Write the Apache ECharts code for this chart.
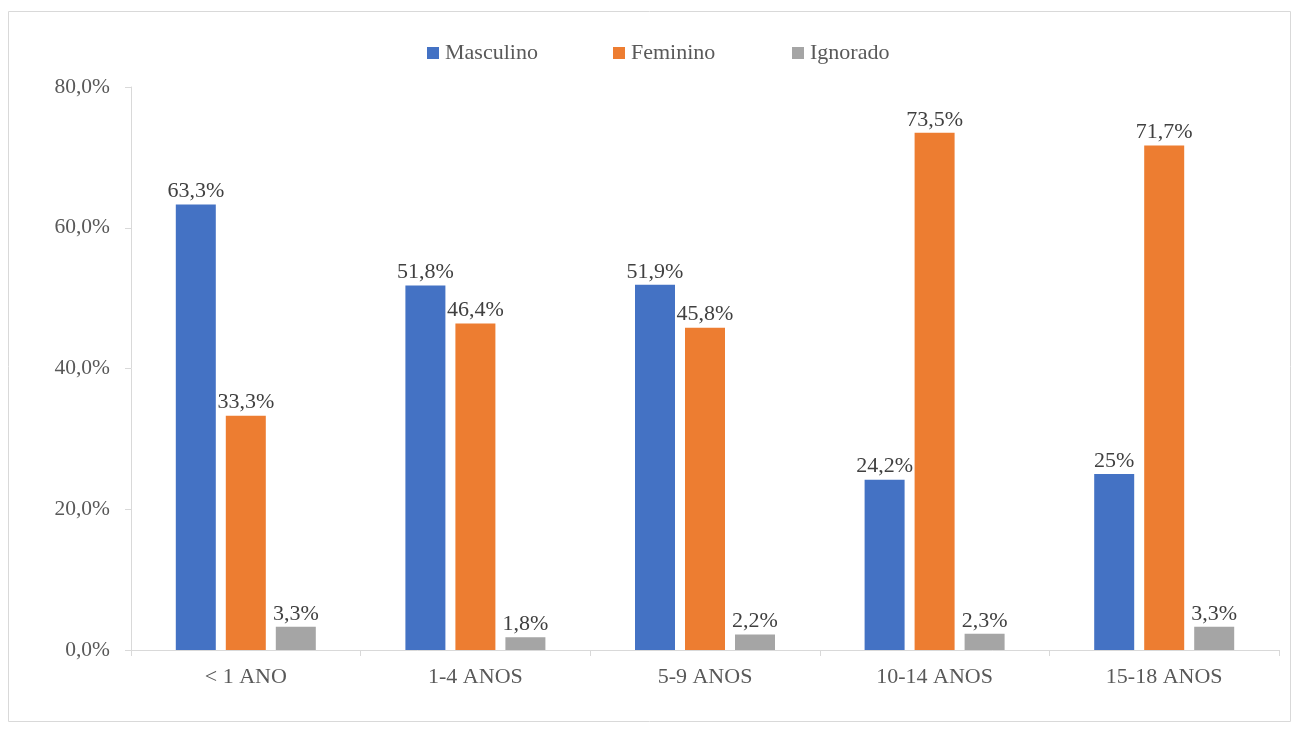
<!DOCTYPE html>
<html><head><meta charset="utf-8">
<script src="https://cdn.jsdelivr.net/npm/echarts@6/dist/echarts.min.js"></script>
<style>html,body{margin:0;padding:0;background:#fff}#c{width:1301px;height:731px}</style>
</head><body><div id="c"></div>
<script>
const categories = ['< 1 ANO', '1-4 ANOS', '5-9 ANOS', '10-14 ANOS', '15-18 ANOS'];
const masculino = [63.3, 51.8, 51.9, 24.2, 25];
const feminino = [33.3, 46.4, 45.8, 73.5, 71.7];
const ignorado = [3.3, 1.8, 2.2, 2.3, 3.3];
const seriesNames = ['Masculino', 'Feminino', 'Ignorado'];
const yTicks = [0, 20, 40, 60, 80];

const FONT = '"Liberation Serif", "Times New Roman", serif';
const colors = ['#4472C4', '#ED7D31', '#A5A5A5'];
const fmtLabel = v => String(v).replace('.', ',') + '%';
const chart = echarts.init(document.getElementById('c'));
const legendLefts = [427, 613, 792];
const mk = (name, data, i) => ({
  name, type: 'bar', data, barWidth: 40, barGap: '25%',
  itemStyle: { color: colors[i] },
  label: { show: true, position: 'top', distance: 2, color: '#404040', fontFamily: FONT, fontSize: 22,
    formatter: p => fmtLabel(p.value) }
});
chart.setOption({
  animation: false,
  color: colors,
  graphic: [{ type: 'rect', shape: { x: 8.5, y: 11.5, width: 1282, height: 710 },
    style: { fill: 'none', stroke: '#d9d9d9', lineWidth: 1 }, z: -1 }],
  legend: seriesNames.map((n, i) => ({
    data: [n], left: legendLefts[i], top: 42, padding: 0, icon: 'rect', itemWidth: 12, itemHeight: 12,
    textStyle: { fontFamily: FONT, fontSize: 22, color: '#595959', padding: [0, 0, 0, 1] }
  })),
  grid: { left: 131, right: 22, top: 87, bottom: 81 },
  xAxis: {
    type: 'category', data: categories,
    axisLine: { lineStyle: { color: '#d9d9d9', width: 1 } },
    axisTick: { show: true, length: 6, lineStyle: { color: '#d9d9d9' } },
    axisLabel: { fontFamily: FONT, fontSize: 22, color: '#595959', margin: 16 }
  },
  yAxis: {
    type: 'value', min: yTicks[0], max: yTicks[yTicks.length - 1], interval: 20,
    axisLine: { show: true, lineStyle: { color: '#d9d9d9', width: 1 } },
    axisTick: { show: true, length: 6, lineStyle: { color: '#d9d9d9' } },
    splitLine: { show: false },
    axisLabel: { fontFamily: FONT, fontSize: 21.5, color: '#595959', margin: 21,
      formatter: v => v.toFixed(1).replace('.', ',') + '%' }
  },
  series: [mk(seriesNames[0], masculino, 0), mk(seriesNames[1], feminino, 1), mk(seriesNames[2], ignorado, 2)]
});
</script></body></html>
